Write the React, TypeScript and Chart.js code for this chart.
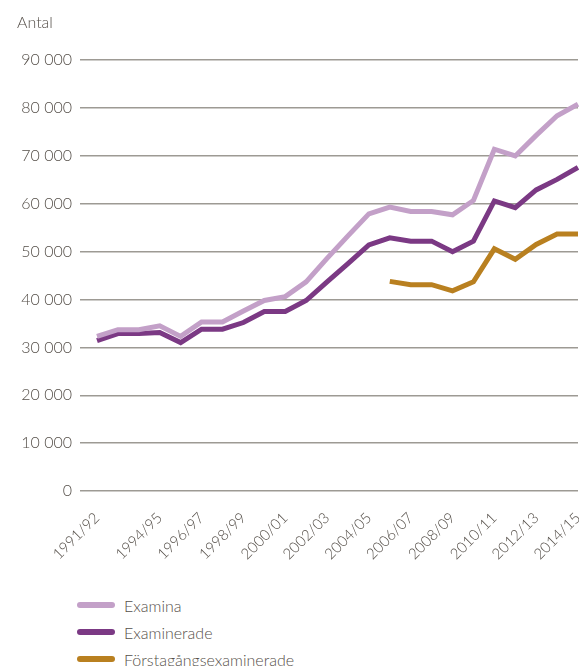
import React, { useEffect, useRef } from "react";
import { Chart, registerables } from "chart.js";

Chart.register(...registerables);

const categories = [
  "1991/92", "1992/93", "1993/94", "1994/95", "1995/96", "1996/97", "1997/98", "1998/99",
  "1999/00", "2000/01", "2001/02", "2002/03", "2003/04", "2004/05", "2005/06", "2006/07",
  "2007/08", "2008/09", "2009/10", "2010/11", "2011/12", "2012/13", "2013/14", "2014/15",
];

const shownTickLabels = [
  "1991/92", "1994/95", "1996/97", "1998/99", "2000/01", "2002/03",
  "2004/05", "2006/07", "2008/09", "2010/11", "2012/13", "2014/15",
];

const examina = [
  32300, 33700, 33700, 34500, 32300, 35300, 35300, 37600, 39800, 40600, 43700, 48600,
  53300, 57900, 59300, 58400, 58400, 57700, 60700, 71400, 70000, 74300, 78400, 80800,
];

const examinerade = [
  31400, 32900, 32900, 33100, 31000, 33800, 33800, 35200, 37500, 37500, 39800, 43700,
  47500, 51400, 52900, 52200, 52200, 50000, 52200, 60600, 59200, 62900, 65100, 67600,
];

const forstagangs = [
  null, null, null, null, null, null, null, null, null, null, null, null,
  null, null, 43800, 43100, 43100, 41800, 43700, 50600, 48400, 51500, 53700, 53700,
];

const seriesNames = ["Examina", "Examinerade", "Förstagångsexaminerade"];
const seriesColors = ["#c3a0c8", "#7b3984", "#b98020"];

const yTicks = [0, 10000, 20000, 30000, 40000, 50000, 60000, 70000, 80000, 90000];

const textColor = "#554f49";
const gridColor = "#9d9a94";
const fontFamily = "Lato, 'Open Sans', sans-serif";

function fmt(v: number): string {
  const s = String(Math.round(v));
  return s.replace(/\B(?=(\d{3})+(?!\d))/g, " ");
}

export default function App() {
  const ref = useRef<HTMLCanvasElement | null>(null);

  useEffect(() => {
    if (!ref.current) return;
    const chart = new Chart(ref.current, {
      type: "line",
      data: {
        labels: categories,
        datasets: [
          { label: seriesNames[0], data: examina, borderColor: seriesColors[0], backgroundColor: seriesColors[0] },
          { label: seriesNames[1], data: examinerade, borderColor: seriesColors[1], backgroundColor: seriesColors[1] },
          { label: seriesNames[2], data: forstagangs as any, borderColor: seriesColors[2], backgroundColor: seriesColors[2] },
        ].map((d) => ({
          ...d,
          borderWidth: 5,
          pointRadius: 0,
          pointHoverRadius: 0,
          tension: 0,
          spanGaps: false,
          fill: false,
        })),
      },
      options: {
        responsive: false,
        animation: false,
        devicePixelRatio: 1,
        layout: { padding: { left: 17, right: 1, top: 0, bottom: 0 } },
        plugins: {
          legend: { display: false },
          tooltip: { enabled: false },
          title: {
            display: true,
            text: "Antal",
            align: "start",
            color: textColor,
            font: { family: fontFamily, size: 16, weight: "300" as any },
            padding: { top: 13, bottom: 28 },
          },
        },
        scales: {
          x: {
            offset: false,
            grid: { display: false },
            border: { display: false },
            afterFit: (scale: any) => {
              scale.paddingLeft = 0;
              scale.paddingRight = 0;
              scale.height = 75;
            },
            ticks: {
              autoSkip: false,
              maxRotation: 45,
              minRotation: 45,
              padding: 10,
              color: textColor,
              font: { family: fontFamily, size: 15, weight: "300" as any },
              callback: function (this: any, _v: any, i: number) {
                const lab = categories[i];
                return shownTickLabels.includes(lab) ? lab : "";
              },
            },
          },
          y: {
            min: yTicks[0],
            max: yTicks[yTicks.length - 1],
            border: { display: false },
            afterFit: (scale: any) => {
              scale.width = 80;
            },
            afterBuildTicks: (scale: any) => {
              scale.ticks = yTicks.map((v) => ({ value: v }));
            },
            grid: {
              color: gridColor,
              lineWidth: 1.5,
              drawTicks: true,
              tickLength: 17,
              tickColor: gridColor,
              tickWidth: 1.5,
            },
            ticks: {
              padding: 8,
              color: textColor,
              font: { family: fontFamily, size: 16, weight: "300" as any },
              callback: (v: any) => fmt(Number(v)),
            },
          },
        },
      },
    });
    return () => chart.destroy();
  }, []);

  return (
    <div
      style={{
        position: "absolute",
        left: 0,
        top: 0,
        width: 579,
        height: 666,
        overflow: "hidden",
        background: "#fff",
        fontFamily,
      }}
    >
      <canvas ref={ref} width={579} height={566} style={{ display: "block" }} />
      {seriesNames.map((name, i) => (
        <div
          key={name}
          style={{
            position: "absolute",
            left: 77,
            top: 605 + i * 27 - 10,
            height: 20,
            display: "flex",
            alignItems: "center",
            whiteSpace: "nowrap",
          }}
        >
          <span
            style={{
              display: "inline-block",
              width: 38,
              height: 6,
              borderRadius: 3,
              background: seriesColors[i],
              marginRight: 9,
            }}
          />
          <span style={{ fontSize: 16, fontWeight: 300, color: textColor }}>{name}</span>
        </div>
      ))}
    </div>
  );
}
